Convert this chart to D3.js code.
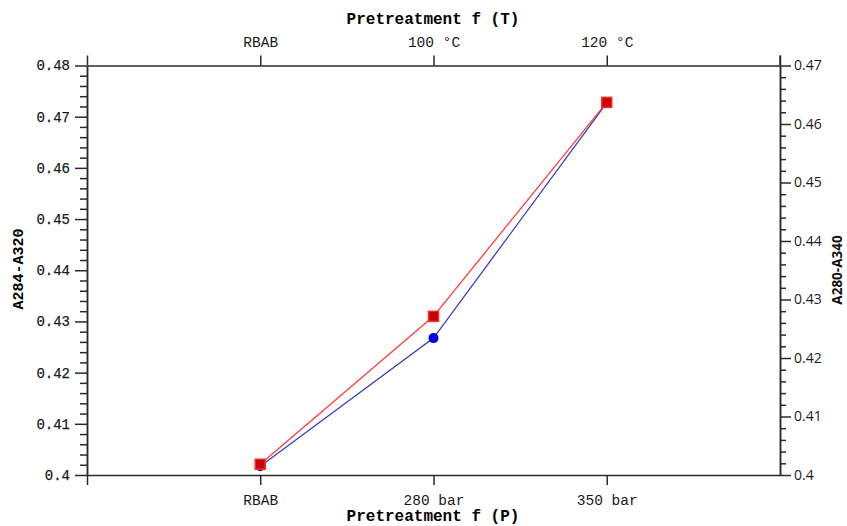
<!DOCTYPE html>
<html>
<head>
<meta charset="utf-8">
<script src="https://cdn.jsdelivr.net/npm/d3@7/dist/d3.min.js"></script>
<style>
  html, body { margin: 0; padding: 0; background: #fff; }
  svg { display: block; }
  .mono { font-family: "Liberation Mono", "Courier New", monospace; }
  .sans { font-family: "Open Sans", "Noto Sans", sans-serif; }
</style>
</head>
<body>
<svg id="chart" width="847" height="526"></svg>
<script>
// Pretreatment categories (bottom: pressure, top: temperature)
const pressureLabels = ["RBAB", "280 bar", "350 bar"];
const temperatureLabels = ["RBAB", "100 °C", "120 °C"];
const categoryPos = [1, 2, 3];

// A284-A320 (left axis) and A280-A340 (right axis)
const a284a320 = [0.4021, 0.4310, 0.4728];
const a280a340 = [0.4015, 0.4234, 0.4636];

const leftTicks = [0.4, 0.41, 0.42, 0.43, 0.44, 0.45, 0.46, 0.47, 0.48];
const rightTicks = [0.4, 0.41, 0.42, 0.43, 0.44, 0.45, 0.46, 0.47];

const svg = d3.select("#chart");
const L = 87, R = 780, T = 65.5, B = 475;

const x = d3.scaleLinear().domain([0, 4]).range([L, R]);
const yL = d3.scaleLinear().domain([0.4, 0.48]).range([B, T]);
const yR = d3.scaleLinear().domain([0.4, 0.47]).range([B, T]);

const axisColor = "#2a2a2a";

function styleAxis(g) {
  g.selectAll("path.domain").attr("stroke", axisColor).attr("stroke-width", 1.5);
  g.selectAll(".tick line").attr("stroke", axisColor).attr("stroke-width", 1.5);
  g.selectAll("text").attr("fill", "#1a1a1a");
}

function minorTicks(lo, hi, step) {
  const out = [];
  const n = Math.round((hi - lo) / step);
  for (let i = 0; i <= n; i++) {
    if (i % 5 !== 0) out.push(+(lo + i * step).toFixed(4));
  }
  return out;
}

// Bottom axis (pressure)
const gB = svg.append("g").attr("transform", `translate(0,${B})`)
  .call(d3.axisBottom(x).tickValues([0, ...categoryPos]).tickSize(10).tickSizeOuter(0)
    .tickPadding(10)
    .tickFormat(d => d === 0 ? "" : pressureLabels[d - 1]));
gB.selectAll("text").attr("class", "mono").attr("font-size", 14.5);
styleAxis(gB);

// Top axis (temperature)
const gT = svg.append("g").attr("transform", `translate(0,${T})`)
  .call(d3.axisTop(x).tickValues([0, ...categoryPos, 4]).tickSize(10).tickSizeOuter(0)
    .tickPadding(9)
    .tickFormat(d => (d === 0 || d === 4) ? "" : temperatureLabels[d - 1]));
gT.selectAll("text").attr("class", "mono").attr("font-size", 14.5);
styleAxis(gT);

// Left axis, minor then major ticks
const gLm = svg.append("g").attr("transform", `translate(${L},0)`)
  .call(d3.axisLeft(yL).tickValues(minorTicks(0.4, 0.48, 0.002)).tickSize(7).tickSizeOuter(0).tickFormat(""));
styleAxis(gLm);
const gL = svg.append("g").attr("transform", `translate(${L},0)`)
  .call(d3.axisLeft(yL).tickValues(leftTicks).tickSize(12).tickSizeOuter(0).tickPadding(5)
    .tickFormat(d => d3.format("")(+d.toFixed(2))));
gL.selectAll("text").attr("class", "mono").attr("font-size", 14)
  .attr("stroke", "#1a1a1a").attr("stroke-width", 0.25);
styleAxis(gL);

// Right axis, minor then major ticks
const gRm = svg.append("g").attr("transform", `translate(${R},0)`)
  .call(d3.axisRight(yR).tickValues(minorTicks(0.4, 0.47, 0.002)).tickSize(6).tickSizeOuter(0).tickFormat(""));
styleAxis(gRm);
const gR = svg.append("g").attr("transform", `translate(${R},0)`)
  .call(d3.axisRight(yR).tickValues(rightTicks).tickSize(11).tickSizeOuter(0).tickPadding(3)
    .tickFormat(d => d3.format("")(+d.toFixed(2))));
gR.selectAll("text").attr("class", "sans").attr("font-size", 14);
styleAxis(gR);

// Right axis extends above the top line
svg.append("line")
  .attr("x1", R).attr("x2", R).attr("y1", T - 10).attr("y2", T)
  .attr("stroke", axisColor).attr("stroke-width", 1.5);

// Axis titles
svg.append("text").attr("class", "mono")
  .attr("x", (L + R) / 2 - 0.5).attr("y", 24)
  .attr("text-anchor", "middle").attr("font-size", 16).attr("font-weight", "bold")
  .text("Pretreatment f (T)");
svg.append("text").attr("class", "mono")
  .attr("x", (L + R) / 2 - 0.5).attr("y", 521)
  .attr("text-anchor", "middle").attr("font-size", 16).attr("font-weight", "bold")
  .text("Pretreatment f (P)");
svg.append("text").attr("class", "mono")
  .attr("transform", "translate(23,269) rotate(-90)")
  .attr("text-anchor", "middle").attr("font-size", 15).attr("font-weight", "bold")
  .text("A284-A320");
svg.append("text").attr("class", "sans")
  .attr("transform", "translate(842,270) rotate(-90)")
  .attr("text-anchor", "middle").attr("font-size", 13.5).attr("font-weight", "bold")
  .attr("fill", "#111")
  .text("A280-A340");

// Blue series (right axis)
const blueLine = d3.line().x((d, i) => x(categoryPos[i])).y(d => yR(d));
svg.append("path").datum(a280a340)
  .attr("d", blueLine).attr("fill", "none")
  .attr("stroke", "#3a3ac8").attr("stroke-width", 1.3);
svg.selectAll("circle.blue").data(a280a340).join("circle")
  .attr("class", "blue")
  .attr("cx", (d, i) => x(categoryPos[i])).attr("cy", d => yR(d))
  .attr("r", 5).attr("fill", "#0000e8");

// Red series (left axis)
const redLine = d3.line().x((d, i) => x(categoryPos[i])).y(d => yL(d));
svg.append("path").datum(a284a320)
  .attr("d", redLine).attr("fill", "none")
  .attr("stroke", "#ff3c3c").attr("stroke-width", 1.3);
svg.selectAll("rect.red").data(a284a320).join("rect")
  .attr("class", "red")
  .attr("x", (d, i) => x(categoryPos[i]) - 5).attr("y", d => yL(d) - 5)
  .attr("width", 10).attr("height", 10)
  .attr("fill", "#c80000").attr("stroke", "#ff2a2a").attr("stroke-width", 1.5);
</script>
</body>
</html>
